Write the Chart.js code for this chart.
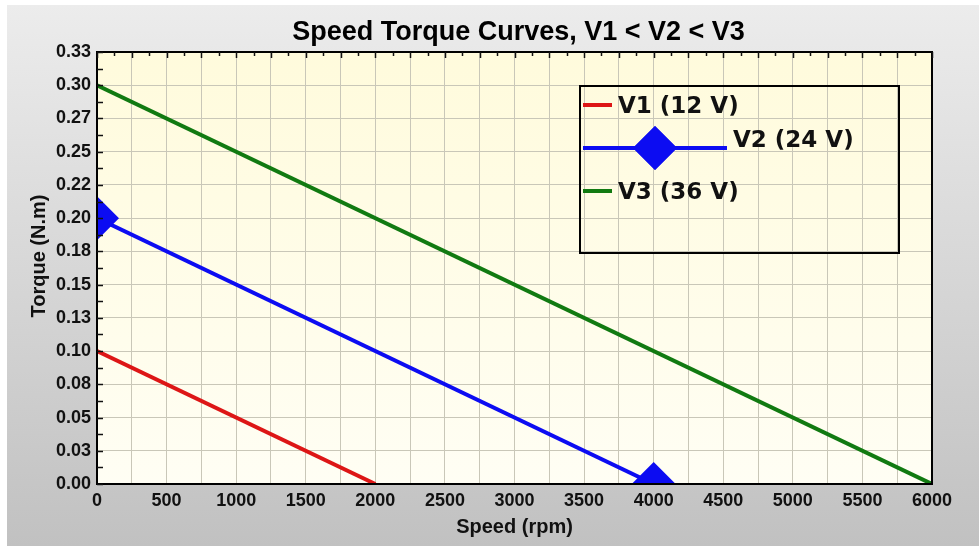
<!DOCTYPE html>
<html>
<head>
<meta charset="utf-8">
<title>Speed Torque Curves</title>
<script src="https://cdn.jsdelivr.net/npm/chart.js@4/dist/chart.umd.min.js"></script>
<style>
  html, body { margin: 0; padding: 0; background: #fff; }
  #wrap { width: 979px; height: 546px; position: relative; }
</style>
</head>
<body>
<div id="wrap"><canvas id="chart"></canvas></div>
<script>
// dane z wykresu
const chartTitle = 'Speed Torque Curves, V1 < V2 < V3';
const xTitle = 'Speed (rpm)';
const yTitle = 'Torque (N.m)';

const seriesLabels = ['V1 (12 V)', 'V2 (24 V)', 'V3 (36 V)'];
const seriesColors = ['#dd1616', '#0c0cf2', '#117a11'];

const speedV1 = [0, 2000];
const torqueV1 = [0.10, 0.00];
const speedV2 = [0, 4000];
const torqueV2 = [0.20, 0.00];
const speedV3 = [0, 6000];
const torqueV3 = [0.30, 0.00];

// etykiety osi Y co 0.025 (tak jak na oryginale)
const yTickLabels = ['0.00', '0.03', '0.05', '0.08', '0.10', '0.13', '0.15',
  '0.18', '0.20', '0.22', '0.25', '0.27', '0.30', '0.33'];

const toPoints = (xs, ys) => xs.map((x, i) => ({x: x, y: ys[i]}));

const gridColor = '#c9c7b8';
const tickFont = {family: 'Liberation Sans, Arial, sans-serif', size: 18, weight: 'bold'};

// tło, tytuły, ramka, legenda
const decorPlugin = {
  id: 'decor',
  beforeDraw(chart) {
    const ctx = chart.ctx;
    const ca = chart.chartArea;
    ctx.save();
    ctx.fillStyle = '#ffffff';
    ctx.fillRect(0, 0, chart.width, chart.height);
    const bg = ctx.createLinearGradient(0, 5, 0, chart.height);
    bg.addColorStop(0, '#ececec');
    bg.addColorStop(1, '#c1c1c1');
    ctx.fillStyle = bg;
    ctx.fillRect(7, 5, chart.width - 7, chart.height - 5);
    const pa = ctx.createLinearGradient(0, ca.top, 0, ca.bottom);
    pa.addColorStop(0, '#fffbdc');
    pa.addColorStop(1, '#fffef4');
    ctx.fillStyle = pa;
    ctx.fillRect(ca.left, ca.top, ca.width, ca.height);
    ctx.restore();
  },
  beforeDatasetsDraw(chart) {
    // przytnij serie do obszaru wykresu (znaczniki na krawędziach)
    const ca = chart.chartArea;
    chart.ctx.save();
    chart.ctx.beginPath();
    chart.ctx.rect(ca.left, ca.top, ca.width, ca.height);
    chart.ctx.clip();
  },
  afterDatasetsDraw(chart) {
    const ctx = chart.ctx;
    ctx.restore();
    const ca = chart.chartArea;
    const xs = chart.scales.x;
    const ys = chart.scales.y;
    ctx.save();

    // ramka
    ctx.strokeStyle = '#000';
    ctx.lineWidth = 2;
    ctx.strokeRect(ca.left, ca.top, ca.width, ca.height);

    // znaczniki do wewnątrz
    ctx.lineWidth = 1.5;
    ctx.strokeStyle = '#111';
    xs.ticks.forEach(t => {
      const px = Math.round(xs.getPixelForValue(t.value)) + 0.5;
      const len = t.value % 250 === 0 ? 6 : 4;
      ctx.beginPath();
      ctx.moveTo(px, ca.top);
      ctx.lineTo(px, ca.top + len);
      ctx.stroke();
    });
    ys.ticks.forEach(t => {
      const py = Math.round(ys.getPixelForValue(t.value)) + 0.5;
      ctx.beginPath();
      ctx.moveTo(ca.left, py);
      ctx.lineTo(ca.left + 6, py);
      ctx.stroke();
    });

    // legenda
    const box = {x: 580, y: 86, w: 319, h: 167};
    ctx.lineWidth = 2;
    ctx.strokeStyle = '#000';
    ctx.strokeRect(box.x, box.y, box.w, box.h);
    ctx.font = 'bold 23px "DejaVu Sans", Verdana, sans-serif';
    ctx.textBaseline = 'middle';
    ctx.textAlign = 'left';
    chart.data.datasets.forEach((ds, i) => {
      const rowY = box.y + 19 + i * 43;
      const hasMarker = ds.pointRadius > 0;
      const lineLen = hasMarker ? 144 : 29;
      const x0 = box.x + 3;
      ctx.strokeStyle = ds.borderColor;
      ctx.lineWidth = 4;
      ctx.beginPath();
      ctx.moveTo(x0, rowY);
      ctx.lineTo(x0 + lineLen, rowY);
      ctx.stroke();
      if (hasMarker) {
        ctx.fillStyle = ds.pointBackgroundColor;
        Chart.helpers.drawPoint(ctx, {pointStyle: 'rectRot', radius: 22, borderWidth: 0}, x0 + lineLen / 2, rowY);
        ctx.fill();
      }
      ctx.fillStyle = '#111';
      ctx.fillText(ds.label, x0 + lineLen + 6, hasMarker ? rowY - 7 : rowY + 2);
    });

    ctx.restore();
  },
  afterDraw(chart) {
    const ctx = chart.ctx;
    const ca = chart.chartArea;
    const cx = ca.left + ca.width / 2;
    ctx.save();
    ctx.fillStyle = '#000';
    ctx.textAlign = 'center';
    ctx.textBaseline = 'middle';
    ctx.font = 'bold 27px "Liberation Sans", Arial, sans-serif';
    ctx.fillText(chartTitle, cx + 4, 33);
    ctx.fillStyle = '#111';
    ctx.font = 'bold 20px "Liberation Sans", Arial, sans-serif';
    ctx.fillText(xTitle, cx, 527);
    ctx.translate(39, 256);
    ctx.rotate(-Math.PI / 2);
    ctx.fillText(yTitle, 0, 0);
    ctx.restore();
  }
};

function makeDataset(i, xs, ys, marker) {
  return {
    label: seriesLabels[i],
    data: toPoints(xs, ys),
    borderColor: seriesColors[i],
    backgroundColor: seriesColors[i],
    pointBackgroundColor: seriesColors[i],
    borderWidth: 4,
    pointStyle: 'rectRot',
    pointRadius: marker ? 22 : 0,
    pointBorderWidth: 0,
    fill: false,
    tension: 0,
    clip: 0
  };
}

new Chart(document.getElementById('chart'), {
  type: 'line',
  data: {
    datasets: [
      makeDataset(0, speedV1, torqueV1, false),
      makeDataset(1, speedV2, torqueV2, true),
      makeDataset(2, speedV3, torqueV3, false)
    ]
  },
  options: {
    responsive: true,
    maintainAspectRatio: false,
    animation: false,
    layout: {padding: {top: 52, right: 47, left: 0, bottom: 0}},
    plugins: {
      legend: {display: false},
      tooltip: {enabled: false},
      title: {display: false}
    },
    scales: {
      x: {
        type: 'linear',
        min: 0,
        max: 6000,
        afterFit: s => { s.height = 62; },
        border: {display: false},
        grid: {
          drawTicks: false,
          color: c => (c.tick && c.tick.value % 250 === 0) ? gridColor : 'rgba(0,0,0,0)',
          lineWidth: 1
        },
        ticks: {
          stepSize: 125,
          autoSkip: false,
          maxRotation: 0,
          padding: 6,
          color: '#111',
          font: tickFont,
          callback: v => (v % 500 === 0 ? String(v) : '')
        }
      },
      y: {
        type: 'linear',
        min: 0,
        max: 0.325,
        afterFit: s => { s.width = 97; },
        border: {display: false},
        grid: {
          drawTicks: false,
          color: c => (c.index % 2 === 0) ? gridColor : 'rgba(0,0,0,0)',
          lineWidth: 1
        },
        ticks: {
          stepSize: 0.0125,
          autoSkip: false,
          padding: 6,
          color: '#111',
          font: tickFont,
          callback: (v, i) => (i % 2 === 0 ? yTickLabels[i / 2] : '')
        }
      }
    }
  },
  plugins: [decorPlugin]
});
</script>
</body>
</html>
